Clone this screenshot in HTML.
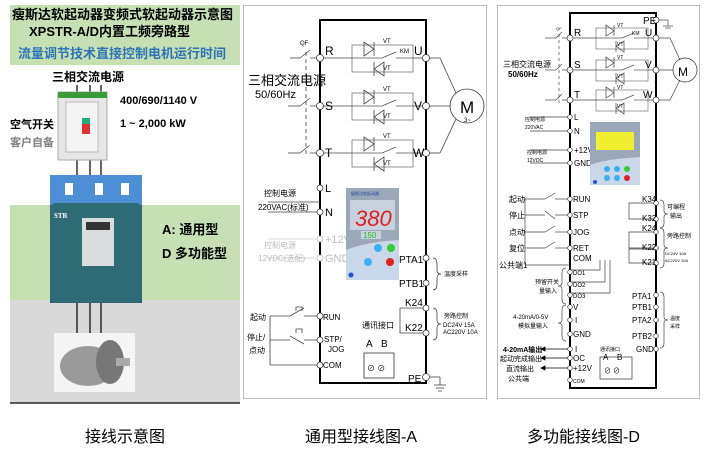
<!DOCTYPE html>
<html><head><meta charset="utf-8"><style>
html,body{margin:0;padding:0;background:#fff;}
svg{display:block;font-family:"Liberation Sans","Noto Sans CJK SC",sans-serif;}
</style></head><body>
<svg width="725" height="476" viewBox="0 0 725 476" xmlns="http://www.w3.org/2000/svg">
<defs>
<g id="thy">
 <rect x="0" y="-13" width="61" height="27" fill="none" stroke="#777" stroke-width="0.8"/>
 <polygon points="12,-16 12,-2 22,-9" fill="none" stroke="#444" stroke-width="0.8"/><line x1="22" y1="-16" x2="22" y2="-2" stroke="#444" stroke-width="0.8"/>
 <polygon points="32,4 32,18 22,11" fill="none" stroke="#444" stroke-width="0.8"/><line x1="22" y1="4" x2="22" y2="18" stroke="#444" stroke-width="0.8"/>
 <line x1="0" y1="0" x2="30" y2="0" stroke="#555" stroke-width="0.8"/><line x1="30" y1="0" x2="44" y2="-6" stroke="#555" stroke-width="0.8"/><line x1="44" y1="0" x2="61" y2="0" stroke="#555" stroke-width="0.8"/>
</g>
<g id="thy2">
 <rect x="0" y="-10" width="52" height="21" fill="none" stroke="#777" stroke-width="0.7"/>
 <polygon points="10,-13 10,-2 18,-7" fill="none" stroke="#444" stroke-width="0.7"/><line x1="18" y1="-13" x2="18" y2="-2" stroke="#444" stroke-width="0.7"/>
 <polygon points="28,3 28,14 20,8" fill="none" stroke="#444" stroke-width="0.7"/><line x1="20" y1="3" x2="20" y2="14" stroke="#444" stroke-width="0.7"/>
 <line x1="0" y1="0" x2="26" y2="0" stroke="#555" stroke-width="0.7"/><line x1="26" y1="0" x2="38" y2="-5" stroke="#555" stroke-width="0.7"/><line x1="38" y1="0" x2="52" y2="0" stroke="#555" stroke-width="0.7"/>
</g>
</defs>

<!-- LEFT PANEL -->
<rect x="10" y="5" width="230" height="398" fill="#fff"/>
<rect x="10" y="5" width="230" height="60" fill="#c6e0b4"/>
<rect x="10" y="205" width="230" height="95" fill="#c6e0b4"/>
<rect x="10" y="300" width="230" height="103" fill="#d9d9d9"/>
<line x1="10" y1="403" x2="240" y2="403" stroke="#000" stroke-width="1.2"/>
<text x="12" y="19" font-size="13" font-weight="bold" fill="#000">瘦斯达软起动器变频式软起动器示意图</text>
<text x="29" y="36" font-size="13" font-weight="bold" fill="#000">XPSTR-A/D内置工频旁路型</text>
<text x="18" y="58" font-size="13" font-weight="bold" fill="#2e75b6">流量调节技术直接控制电机运行时间</text>
<text x="52" y="81" font-size="12" font-weight="bold">三相交流电源</text>
<text x="120" y="104" font-size="11" font-weight="bold">400/690/1140 V</text>
<text x="120" y="127" font-size="11" font-weight="bold">1 ~ 2,000 kW</text>
<text x="10" y="128" font-size="11" font-weight="bold">空气开关</text>
<text x="10" y="146" font-size="11" font-weight="bold" fill="#808080">客户自备</text>
<g stroke="#000" stroke-width="1.2"><line x1="77" y1="85" x2="77" y2="175"/><line x1="90" y1="85" x2="90" y2="175"/><line x1="101" y1="85" x2="101" y2="175"/>
<line x1="77" y1="300" x2="77" y2="335"/><line x1="90" y1="300" x2="90" y2="335"/><line x1="101" y1="300" x2="101" y2="335"/></g>
<rect x="58" y="92" width="49" height="68" fill="#e6e6e6" stroke="#aaa"/>
<rect x="58" y="92" width="49" height="6" fill="#3a9b3a"/>
<rect x="66" y="102" width="32" height="50" fill="#f4f4f4" stroke="#bbb"/>
<rect x="82" y="118" width="8" height="16" fill="#d33"/><rect x="82" y="118" width="8" height="6" fill="#2a7"/>
<rect x="50" y="175" width="92" height="128" fill="#2a5c66"/>
<rect x="50" y="175" width="92" height="30" fill="#4c8fd6"/>
<rect x="65" y="183" width="8" height="12" fill="#fff"/><rect x="95" y="183" width="8" height="12" fill="#fff"/><rect x="121" y="183" width="8" height="12" fill="#fff"/>
<rect x="50" y="203" width="92" height="100" rx="6" fill="#2f6b74"/>
<rect x="82" y="218" width="32" height="48" fill="#d8dcdc"/>
<rect x="86" y="222" width="24" height="8" fill="#333"/>
<text x="54" y="218" font-size="7" font-weight="bold" fill="#fff" font-family="Liberation Serif">STR</text>
<text x="162" y="234" font-size="13" font-weight="bold">A: 通用型</text>
<text x="162" y="258" font-size="13" font-weight="bold">D 多功能型</text>
<rect x="54" y="333" width="81" height="59" fill="#f4f4f4"/>
<ellipse cx="88" cy="366" rx="28" ry="20" fill="#9a9a9a"/>
<ellipse cx="110" cy="362" rx="14" ry="22" fill="#777"/>
<rect x="116" y="358" width="14" height="8" fill="#aaa"/>

<!-- MIDDLE PANEL -->
<rect x="243.5" y="5.5" width="243" height="393" fill="none" stroke="#bbb"/>
<rect x="320" y="20" width="106" height="363" fill="none" stroke="#000" stroke-width="2"/>
<g font-size="11">
<use href="#thy" x="352" y="58"/><use href="#thy" x="352" y="106"/><use href="#thy" x="352" y="153"/>
<g font-size="6"><text x="383" y="43">VT</text><text x="383" y="70">VT</text><text x="400" y="53">KM</text><text x="383" y="91">VT</text><text x="383" y="118">VT</text><text x="383" y="138">VT</text><text x="383" y="165">VT</text></g>
<g stroke="#444" stroke-width="0.8" fill="none">
<line x1="290" y1="58" x2="300" y2="58"/><line x1="300" y1="58" x2="310" y2="50"/><line x1="310" y1="58" x2="352" y2="58"/>
<line x1="288" y1="106" x2="300" y2="106"/><line x1="300" y1="106" x2="310" y2="98"/><line x1="310" y1="106" x2="352" y2="106"/>
<line x1="288" y1="153" x2="300" y2="153"/><line x1="300" y1="153" x2="310" y2="145"/><line x1="310" y1="153" x2="352" y2="153"/>
<line x1="306" y1="52" x2="306" y2="155" stroke-dasharray="4,3"/>
<line x1="413" y1="58" x2="426" y2="58"/><line x1="413" y1="106" x2="426" y2="106"/><line x1="413" y1="153" x2="426" y2="153"/>
<line x1="426" y1="58" x2="440" y2="58"/><line x1="440" y1="58" x2="456" y2="93"/>
<line x1="426" y1="106" x2="450" y2="106"/>
<line x1="426" y1="153" x2="440" y2="153"/><line x1="440" y1="153" x2="456" y2="119"/>
<circle cx="467" cy="106" r="17" stroke="#333"/>
<line x1="268" y1="202" x2="320" y2="202"/><line x1="268" y1="212" x2="320" y2="212"/>
<line x1="268" y1="239" x2="320" y2="239" stroke="#ccc"/><line x1="268" y1="258" x2="320" y2="258" stroke="#ccc"/>
<line x1="270" y1="316" x2="290" y2="316"/><line x1="290" y1="316" x2="304" y2="308"/><line x1="304" y1="316" x2="320" y2="316"/>
<line x1="270" y1="340" x2="290" y2="340"/><line x1="290" y1="336" x2="304" y2="344"/><line x1="304" y1="340" x2="320" y2="340"/>
<line x1="270" y1="316" x2="270" y2="365"/><line x1="270" y1="365" x2="320" y2="365"/>
<path d="M296 311 v-4 h6 v4 M296 333 v-4 h6 v4"/>
<path d="M426 308 h-26 v25 h26"/><path d="M433 258 q4 0 4 6 v6 q0 4 4 4 q-4 0 -4 4 v6 q0 6 -4 6"/>
<path d="M433 308 q4 0 4 6 v6 q0 4 4 4 q-4 0 -4 4 v6 q0 6 -4 6"/>
<line x1="426" y1="377" x2="440" y2="377"/><line x1="440" y1="377" x2="440" y2="385"/><line x1="434" y1="385" x2="446" y2="385"/><line x1="436" y1="388" x2="444" y2="388"/><line x1="438" y1="391" x2="442" y2="391"/>
<rect x="364" y="353" width="30" height="25" stroke="#333"/>
</g>
<g fill="#fff" stroke="#333" stroke-width="0.8">
<circle cx="320" cy="58" r="3.5"/><circle cx="320" cy="106" r="3.5"/><circle cx="320" cy="153" r="3.5"/><circle cx="320" cy="188" r="3"/><circle cx="320" cy="212" r="3"/><circle cx="320" cy="239" r="3" stroke="#bbb"/><circle cx="320" cy="258" r="3" stroke="#bbb"/><circle cx="320" cy="316" r="3"/><circle cx="320" cy="340" r="3"/><circle cx="320" cy="365" r="3"/>
<circle cx="426" cy="58" r="3.5"/><circle cx="426" cy="106" r="3.5"/><circle cx="426" cy="153" r="3.5"/><circle cx="426" cy="258" r="3"/><circle cx="426" cy="283" r="3"/><circle cx="426" cy="308" r="3"/><circle cx="426" cy="333" r="3"/><circle cx="426" cy="377" r="3.5"/>
</g>
<text x="300" y="45" font-size="6">QF</text>
<text x="325" y="55" font-size="12">R</text><text x="325" y="110" font-size="12">S</text><text x="325" y="157" font-size="12">T</text>
<text x="414" y="55" font-size="12">U</text><text x="414" y="110" font-size="12">V</text><text x="413" y="157" font-size="12">W</text>
<text x="460" y="113" font-size="17">M</text><text x="464" y="122" font-size="6">3~</text>
<text x="248" y="85" font-size="13">三相交流电源</text><text x="255" y="98" font-size="11">50/60Hz</text>
<text x="325" y="192" font-size="11">L</text><text x="325" y="216" font-size="11">N</text>
<text x="325" y="243" font-size="11" fill="#bbb">+12V</text><text x="325" y="262" font-size="11" fill="#bbb">GND</text>
<text x="264" y="196" font-size="8">控制电源</text><text x="258" y="210" font-size="8">220VAC(标准)</text>
<text x="264" y="248" font-size="8" fill="#bbb">控制电源</text><text x="258" y="261" font-size="8" fill="#bbb">12VDC(选配)</text>
<text x="323" y="320" font-size="8">RUN</text><text x="324" y="342" font-size="8">STP/</text><text x="328" y="352" font-size="8">JOG</text><text x="323" y="368" font-size="8">COM</text>
<text x="250" y="320" font-size="8">起动</text><text x="247" y="340" font-size="8">停止/</text><text x="249" y="353" font-size="8">点动</text>
<text x="399" y="263" font-size="10">PTA1</text><text x="399" y="287" font-size="10">PTB1</text><text x="405" y="306" font-size="10">K24</text><text x="405" y="331" font-size="10">K22</text><text x="408" y="382" font-size="10">PE</text>
<text x="444" y="276" font-size="6">温度采样</text><text x="444" y="318" font-size="6">旁路控制</text><text x="443" y="327" font-size="6">DC24V 15A</text><text x="443" y="334" font-size="6">AC220V 10A</text>
<text x="362" y="328" font-size="8">通讯接口</text><text x="366" y="347" font-size="10">A</text><text x="381" y="347" font-size="10">B</text>
<text x="367" y="371" font-size="8">⊘ ⊘</text>
</g>
<rect x="346" y="188" width="53" height="92" fill="#9aa8b8"/>
<rect x="350" y="200" width="45" height="30" fill="#c8d2de"/>
<text x="355" y="226" font-size="22" fill="#e02020" font-style="italic">380</text>
<rect x="361" y="231" width="20" height="8" fill="#c8d2de"/><text x="363" y="238" font-size="8" fill="#22bb22">150</text>
<path d="M346 250 q20 -8 53 -10 v40 h-53z" fill="#c8d8ea"/>
<circle cx="378" cy="248" r="4" fill="#3bb0f0"/><circle cx="391" cy="248" r="4" fill="#33cc33"/><circle cx="368" cy="262" r="4" fill="#3bb0f0"/><circle cx="390" cy="262" r="4" fill="#e02020"/>
<circle cx="351" cy="275" r="2.5" fill="#2255cc"/>
<text x="351" y="195" font-size="4" fill="#1f3f9f">瘦斯达软起动器</text>

<!-- RIGHT PANEL -->
<rect x="497.5" y="5.5" width="202" height="393" fill="none" stroke="#bbb"/>
<rect x="570" y="13" width="86" height="375" fill="none" stroke="#000" stroke-width="2"/>
<use href="#thy2" x="596" y="38"/><use href="#thy2" x="596" y="70"/><use href="#thy2" x="596" y="100"/>
<g font-size="5"><text x="617" y="27">VT</text><text x="617" y="46">VT</text><text x="632" y="35">KM</text><text x="617" y="59">VT</text><text x="617" y="78">VT</text><text x="617" y="89">VT</text><text x="617" y="108">VT</text></g>
<g stroke="#444" stroke-width="0.7" fill="none">
<line x1="545" y1="38" x2="556" y2="38"/><line x1="556" y1="38" x2="562" y2="32"/><line x1="562" y1="38" x2="596" y2="38"/>
<line x1="545" y1="70" x2="556" y2="70"/><line x1="556" y1="70" x2="562" y2="64"/><line x1="562" y1="70" x2="596" y2="70"/>
<line x1="545" y1="100" x2="556" y2="100"/><line x1="556" y1="100" x2="562" y2="94"/><line x1="562" y1="100" x2="596" y2="100"/>
<line x1="559" y1="34" x2="559" y2="103" stroke-dasharray="3,3"/>
<line x1="648" y1="38" x2="670" y2="38"/><line x1="670" y1="38" x2="680" y2="60"/><line x1="648" y1="70" x2="673" y2="70"/><line x1="648" y1="100" x2="670" y2="100"/><line x1="670" y1="100" x2="680" y2="80"/>
<circle cx="685" cy="70" r="12" stroke="#333"/>
<line x1="656" y1="20" x2="668" y2="20"/><line x1="668" y1="20" x2="668" y2="26"/><line x1="663" y1="26" x2="673" y2="26"/><line x1="665" y1="28" x2="671" y2="28"/>
<line x1="530" y1="117" x2="570" y2="117"/><line x1="530" y1="131" x2="570" y2="131"/><line x1="530" y1="150" x2="570" y2="150"/><line x1="530" y1="163" x2="570" y2="163"/>
<line x1="525" y1="199" x2="545" y2="199"/><line x1="545" y1="199" x2="555" y2="193"/><line x1="555" y1="199" x2="570" y2="199"/>
<line x1="525" y1="215" x2="545" y2="215"/><line x1="545" y1="211" x2="555" y2="219"/><line x1="555" y1="215" x2="570" y2="215"/>
<line x1="525" y1="232" x2="545" y2="232"/><line x1="545" y1="232" x2="555" y2="226"/><line x1="555" y1="232" x2="570" y2="232"/>
<line x1="525" y1="248" x2="545" y2="248"/><line x1="545" y1="248" x2="555" y2="242"/><line x1="555" y1="248" x2="570" y2="248"/>
<line x1="525" y1="199" x2="525" y2="265"/><line x1="525" y1="265" x2="570" y2="265"/>
<path d="M570 270 h30 v-10 M570 282 h35 v-22 M570 293 h40 v-33"/>
<path d="M566 268 q-4 0 -4 5 v10 q0 3 -4 3 q4 0 4 3 v10 q0 5 4 5"/>
<path d="M566 305 q-4 0 -4 5 v10 q0 3 -4 3 q4 0 4 3 v10 q0 5 4 5"/>
<path d="M656 203 h-27 v16 h27 M656 232 h-27 v16 h27 M656 249 h-27 v14 h27"/>
<path d="M660 200 q4 0 4 5 v6 q0 3 4 3 q-4 0 -4 3 v6 q0 5 -4 5"/>
<path d="M660 228 q4 0 4 5 v12 q0 3 4 3 q-4 0 -4 3 v12 q0 5 -4 5"/>
<path d="M660 292 q4 0 4 5 v20 q0 3 4 3 q-4 0 -4 3 v20 q0 5 -4 5"/>
<rect x="600" y="357" width="32" height="22" stroke="#333"/>
</g>
<g stroke="#000" stroke-width="0.8"><line x1="545" y1="349" x2="570" y2="349"/><line x1="545" y1="358" x2="570" y2="358"/><line x1="545" y1="368" x2="570" y2="368"/>
<path d="M545 347 l-4 2 l4 2z M545 356 l-4 2 l4 2z M545 366 l-4 2 l4 2z" fill="#000"/></g>
<g fill="#fff" stroke="#333" stroke-width="0.7">
<circle cx="570" cy="38" r="3"/><circle cx="570" cy="70" r="3"/><circle cx="570" cy="100" r="3"/>
<circle cx="570" cy="117" r="2.3"/><circle cx="570" cy="131" r="2.3"/><circle cx="570" cy="150" r="2.3"/><circle cx="570" cy="163" r="2.3"/><circle cx="570" cy="199" r="2.3"/><circle cx="570" cy="215" r="2.3"/><circle cx="570" cy="232" r="2.3"/><circle cx="570" cy="248" r="2.3"/><circle cx="570" cy="272" r="2.3"/><circle cx="570" cy="284" r="2.3"/><circle cx="570" cy="295" r="2.3"/><circle cx="570" cy="307" r="2.3"/><circle cx="570" cy="320" r="2.3"/><circle cx="570" cy="334" r="2.3"/><circle cx="570" cy="349" r="2.3"/><circle cx="570" cy="358" r="2.3"/><circle cx="570" cy="368" r="2.3"/><circle cx="570" cy="380" r="2.3"/>
<circle cx="656" cy="20" r="3"/><circle cx="656" cy="38" r="3"/><circle cx="656" cy="70" r="3"/><circle cx="656" cy="100" r="3"/>
<circle cx="656" cy="203" r="2.3"/><circle cx="656" cy="219" r="2.3"/><circle cx="656" cy="232" r="2.3"/><circle cx="656" cy="248" r="2.3"/><circle cx="656" cy="263" r="2.3"/><circle cx="656" cy="295" r="2.3"/><circle cx="656" cy="307" r="2.3"/><circle cx="656" cy="320" r="2.3"/><circle cx="656" cy="336" r="2.3"/><circle cx="656" cy="349" r="2.3"/>
</g>
<g font-size="10">
<text x="574" y="36">R</text><text x="574" y="68">S</text><text x="574" y="98">T</text><text x="645" y="36">U</text><text x="645" y="68">V</text><text x="643" y="98">W</text><text x="643" y="24">PE</text>
<text x="678" y="76" font-size="12">M</text>
<text x="503" y="67" font-size="8">三相交流电源</text><text x="508" y="77" font-size="8" font-weight="bold">50/60Hz</text>
<text x="556" y="30" font-size="4">QF</text>
<text x="574" y="120" font-size="8">L</text><text x="574" y="134" font-size="8">N</text><text x="574" y="153" font-size="8">+12V</text><text x="574" y="166" font-size="8">GND</text>
<text x="525" y="121" font-size="5">控制电源</text><text x="525" y="129" font-size="5">220VAC</text><text x="527" y="154" font-size="5">控制电源</text><text x="527" y="162" font-size="5">12VDC</text>
<g font-size="8"><text x="573" y="202">RUN</text><text x="573" y="218">STP</text><text x="573" y="235">JOG</text><text x="573" y="251">RET</text><text x="573" y="261">COM</text>
<text x="573" y="275" font-size="6">DO1</text><text x="573" y="287" font-size="6">DO2</text><text x="573" y="298" font-size="6">DO3</text>
<text x="573" y="310">V</text><text x="575" y="323">I</text><text x="573" y="337">GND</text><text x="575" y="352">I</text><text x="573" y="361">OC</text><text x="573" y="371">+12V</text><text x="573" y="383" font-size="5">COM</text>
<text x="509" y="202">起动</text><text x="509" y="218">停止</text><text x="509" y="235">点动</text><text x="509" y="251">复位</text><text x="499" y="268">公共端1</text>
<text x="535" y="284" font-size="6">预留开关</text><text x="539" y="293" font-size="6">量输入</text>
<text x="513" y="319" font-size="6">4-20mA/0-5V</text><text x="518" y="328" font-size="6">模拟量输入</text>
<text x="503" y="352" font-size="7" font-weight="bold">4-20mA输出</text><text x="500" y="361" font-size="7">起动完成输出</text><text x="506" y="371" font-size="7">直流输出</text><text x="508" y="381" font-size="7">公共端</text>
<text x="642" y="202">K34</text><text x="642" y="221">K32</text><text x="642" y="231">K24</text><text x="642" y="250">K22</text><text x="642" y="265">K21</text>
<text x="632" y="299">PTA1</text><text x="632" y="310">PTB1</text><text x="632" y="323">PTA2</text><text x="632" y="339">PTB2</text><text x="636" y="352">GND</text>
<text x="667" y="209" font-size="6">可编程</text><text x="670" y="218" font-size="6">输出</text><text x="667" y="238" font-size="6">旁路控制</text><text x="665" y="255" font-size="4">DC24V 10A</text><text x="665" y="262" font-size="4">AC220V 10A</text>
<text x="670" y="320" font-size="5">温度</text><text x="670" y="328" font-size="5">采样</text>
<text x="600" y="351" font-size="5">通讯接口</text><text x="603" y="360" font-size="8">A</text><text x="617" y="360" font-size="8">B</text><text x="604" y="373" font-size="7">⊘ ⊘</text>
</g></g>
<rect x="590" y="122" width="50" height="63" fill="#9aa8b8"/>
<rect x="596" y="132" width="38" height="18" fill="#f0ee30"/>
<path d="M590 165 q15 -6 50 -8 v28 h-50z" fill="#c8d8ea"/>
<circle cx="607" cy="169" r="3" fill="#3bb0f0"/><circle cx="617" cy="169" r="3" fill="#3bb0f0"/><circle cx="627" cy="169" r="3" fill="#33cc33"/>
<circle cx="607" cy="178" r="3" fill="#3bb0f0"/><circle cx="617" cy="178" r="3" fill="#3bb0f0"/><circle cx="627" cy="178" r="3" fill="#e02020"/>
<circle cx="595" cy="182" r="2" fill="#2255cc"/>

<text x="85" y="442" font-size="16">接线示意图</text>
<text x="305" y="442" font-size="16">通用型接线图-A</text>
<text x="527" y="442" font-size="16">多功能接线图-D</text>
</svg>
</body></html>
